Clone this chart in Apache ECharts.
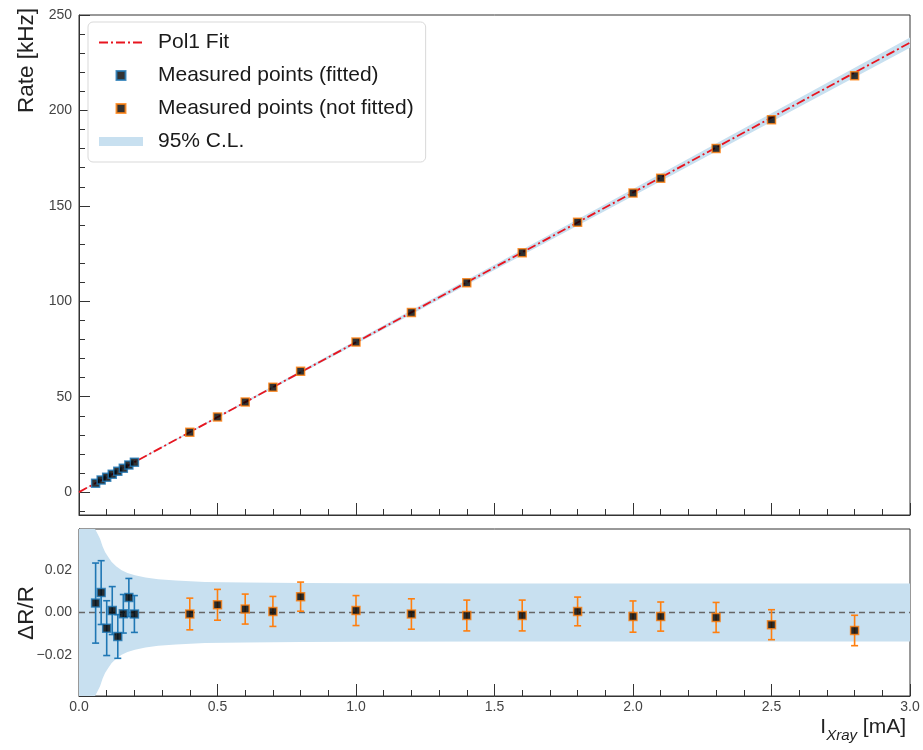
<!DOCTYPE html>
<html><head><meta charset="utf-8">
<script src="https://cdn.jsdelivr.net/npm/echarts@6/dist/echarts.min.js"></script>
<style>html,body{margin:0;padding:0;background:#fff}#chart{width:923px;height:750px}</style>
</head><body><div id="chart"></div>
<script>
// ---- data ----
const xFitted   = [0.06, 0.08, 0.10, 0.12, 0.14, 0.16, 0.18, 0.20];
const rateFitted = [4.7, 6.3, 7.8, 9.4, 10.9, 12.5, 14.2, 15.7];
const resFitted = [0.0044, 0.0093, -0.0073, 0.0009, -0.0112, -0.0006, 0.0070, -0.0007];
const errFitted = [0.0187, 0.0149, 0.0128, 0.0112, 0.0102, 0.0090, 0.0089, 0.0086];

const xNotFitted = [0.4, 0.5, 0.6, 0.7, 0.8, 1.0, 1.2, 1.4, 1.6, 1.8, 2.0, 2.1, 2.3, 2.5, 2.8];
const rateNotFitted = [31.4, 39.4, 47.2, 55.0, 63.3, 78.6, 94.1, 109.7, 125.4, 141.4, 156.7, 164.5, 180.1, 195.1, 218.2];
const resNotFitted = [-0.0007, 0.0036, 0.0016, 0.0005, 0.0074, 0.0009, -0.0007, -0.0014, -0.0014, 0.0005, -0.0019, -0.0019, -0.0023, -0.0057, -0.0084];
const errNotFitted = [0.0074, 0.0072, 0.0070, 0.0070, 0.0068, 0.0070, 0.0071, 0.0072, 0.0072, 0.0067, 0.0073, 0.0068, 0.0070, 0.0070, 0.0071];

const fitLineX = [0.0, 3.0];
const fitLineY = [0.0, 235.5];

const fitBandX    = [0.0, 0.5, 1.0, 1.5, 2.0, 2.5, 3.0];
const fitBandLow  = [-0.2, 38.8, 77.6, 116.4, 155.2, 194.0, 232.8];
const fitBandHigh = [0.2, 39.7, 79.4, 119.1, 158.8, 198.5, 238.2];

const resBandX    = [0.000, 0.030, 0.045, 0.058, 0.066, 0.076, 0.085, 0.094, 0.105, 0.118, 0.135, 0.154, 0.175, 0.202, 0.240, 0.286, 0.350, 0.455, 0.600, 0.800, 1.000, 1.500, 2.000, 2.500, 3.000];
const resBandLow  = [-0.300, -0.070, -0.048, -0.039, -0.037, -0.0344, -0.031, -0.0282, -0.026, -0.0236, -0.0215, -0.0197, -0.0185, -0.0174, -0.0163, -0.0155, -0.0149, -0.0143, -0.0140, -0.0138, -0.0137, -0.0136, -0.0136, -0.0136, -0.0136];
const resBandHigh = [0.300, 0.070, 0.048, 0.039, 0.037, 0.0344, 0.031, 0.0282, 0.026, 0.0236, 0.0215, 0.0197, 0.0185, 0.0174, 0.0163, 0.0155, 0.0149, 0.0143, 0.0140, 0.0138, 0.0137, 0.0136, 0.0136, 0.0136, 0.0136];

const xTickLabels = ['0.0', '0.5', '1.0', '1.5', '2.0', '2.5', '3.0'];
const rateTicks = [0, 50, 100, 150, 200, 250];
const rateMinorTicks = [-10, 10, 20, 30, 40, 60, 70, 80, 90, 110, 120, 130, 140, 160, 170, 180, 190, 210, 220, 230, 240];
const resTicks = [-0.02, 0.00, 0.02];
const resTickLabels = ['\u22120.02', '0.00', '0.02'];
const resMinorTicks = [-0.035, -0.03, -0.025, -0.015, -0.01, -0.005, 0.005, 0.01, 0.015, 0.025, 0.03, 0.035];

// ---- styling ----
const FONT = 'Liberation Sans, Arial, sans-serif';
const BAND = '#c8e0f0';
const BLUE = '#1f77b4';
const ORANGE = '#ff7f0e';
const RED = '#e8151f';
const AXIS = '#333';
const SQ = 'path://M0,0L10,0L10,10L0,10Z';

const zip = (a, b) => a.map((v, i) => [v, b[i]]);

function errRenderer(color) {
  return function (params, api) {
    const x = api.value(0), y = api.value(1), e = api.value(2);
    const t = api.coord([x, y + e]);
    const b = api.coord([x, y - e]);
    const c = 3.5;
    const st = { stroke: color, lineWidth: 1.6 };
    return { type: 'group', children: [
      { type: 'line', shape: { x1: t[0], y1: t[1], x2: b[0], y2: b[1] }, style: st },
      { type: 'line', shape: { x1: t[0] - c, y1: t[1], x2: t[0] + c, y2: t[1] }, style: st },
      { type: 'line', shape: { x1: b[0] - c, y1: b[1], x2: b[0] + c, y2: b[1] }, style: st }
    ]};
  };
}

function bandRenderer(xs, lo, hi) {
  return function (params, api) {
    if (params.dataIndex !== 0) return null;
    const pts = [];
    for (let i = 0; i < xs.length; i++) pts.push(api.coord([xs[i], hi[i]]));
    for (let i = xs.length - 1; i >= 0; i--) pts.push(api.coord([xs[i], lo[i]]));
    const cs = params.coordSys;
    return { type: 'polygon', shape: { points: pts }, style: { fill: BAND },
      clipPath: { type: 'rect', shape: { x: cs.x, y: cs.y, width: cs.width, height: cs.height } } };
  };
}

const xAxisCommon = {
  type: 'value', min: 0, max: 3, interval: 0.5,
  axisLine: { show: true, onZero: false, lineStyle: { color: AXIS, width: 1 } },
  axisTick: { show: true, inside: true, length: 12, lineStyle: { color: AXIS } },
  minorTick: { show: true, splitNumber: 5, length: 6, lineStyle: { color: AXIS } },
  splitLine: { show: false }, minorSplitLine: { show: false }
};

const chart = echarts.init(document.getElementById('chart'), null, { renderer: 'canvas' });
chart.setOption({
  animation: false,
  backgroundColor: '#fff',
  grid: [
    { left: 79, right: 13, top: 15, height: 500, show: true, borderColor: AXIS, borderWidth: 1, backgroundColor: 'transparent' },
    { left: 79, right: 13, top: 529, height: 167, show: true, borderColor: AXIS, borderWidth: 1, backgroundColor: 'transparent' }
  ],
  xAxis: [
    Object.assign({}, xAxisCommon, { gridIndex: 0, axisLabel: { show: false } }),
    Object.assign({}, xAxisCommon, { gridIndex: 1, axisLabel: { show: true, margin: 4, fontSize: 14, fontFamily: FONT, color: '#444',
      formatter: v => xTickLabels[Math.round(v / 0.5)] } })
  ],
  yAxis: [
    { gridIndex: 0, type: 'value', min: -12, max: 250,
      axisLine: { show: true, onZero: false, lineStyle: { color: AXIS } },
      axisTick: { show: true, inside: true, length: 11, customValues: rateTicks, lineStyle: { color: AXIS } },
      axisLabel: { show: true, customValues: rateTicks, margin: 7, fontSize: 14, fontFamily: FONT, color: '#444', formatter: v => String(v) },
      splitLine: { show: false } },
    { gridIndex: 0, type: 'value', min: -12, max: 250, position: 'left',
      axisLine: { show: false, onZero: false },
      axisTick: { show: true, inside: true, length: 6, customValues: rateMinorTicks, lineStyle: { color: AXIS } },
      axisLabel: { show: false }, splitLine: { show: false } },
    { gridIndex: 1, type: 'value', min: -0.039, max: 0.039,
      axisLine: { show: true, onZero: false, lineStyle: { color: AXIS } },
      axisTick: { show: true, inside: true, length: 11, customValues: resTicks, lineStyle: { color: AXIS } },
      axisLabel: { show: true, customValues: resTicks, margin: 7, fontSize: 14, fontFamily: FONT, color: '#444',
        formatter: v => resTickLabels[resTicks.findIndex(t => Math.abs(t - v) < 1e-6)] },
      splitLine: { show: false } },
    { gridIndex: 1, type: 'value', min: -0.039, max: 0.039, position: 'left',
      axisLine: { show: false, onZero: false },
      axisTick: { show: true, inside: true, length: 6, customValues: resMinorTicks, lineStyle: { color: AXIS } },
      axisLabel: { show: false }, splitLine: { show: false } }
  ],
  legend: {
    orient: 'vertical', left: 88, top: 22,
    padding: [10, 12, 10, 10], itemGap: 12, itemWidth: 44, itemHeight: 9,
    backgroundColor: '#fff', borderColor: '#d9d9d9', borderWidth: 1, borderRadius: 5,
    textStyle: { fontSize: 21, lineHeight: 20, fontFamily: FONT, color: '#1a1a1a', padding: [0, 0, 0, 10] },
    selectedMode: false,
    data: [
      { name: 'Pol1 Fit', itemStyle: { opacity: 0 } },
      { name: 'Measured points (fitted)', icon: SQ },
      { name: 'Measured points (not fitted)', icon: SQ },
      { name: '95% C.L.', icon: 'rect', itemStyle: { color: BAND, borderWidth: 0, opacity: 1 } }
    ]
  },
  graphic: [
    { type: 'text', x: 38, y: 8, rotation: Math.PI / 2,
      style: { text: 'Rate [kHz]', fontSize: 22.5, fontFamily: FONT, fill: '#222', align: 'right', verticalAlign: 'bottom' } },
    { type: 'text', x: 38, y: 613, rotation: Math.PI / 2,
      style: { text: '\u0394R/R', fontSize: 22.5, fontFamily: FONT, fill: '#222', align: 'center', verticalAlign: 'bottom' } },
    { type: 'text', x: 906, y: 717,
      style: { text: '{a|I}{b|Xray}{a| [mA]}', fill: '#222', align: 'right', verticalAlign: 'top',
        rich: {
          a: { fontSize: 21, fontFamily: FONT, lineHeight: 25, verticalAlign: 'top' },
          b: { fontSize: 15, fontFamily: FONT, fontStyle: 'italic', lineHeight: 38 }
        } } }
  ],
  series: [
    // top panel
    { name: '95% C.L.', type: 'custom', coordinateSystem: 'cartesian2d', xAxisIndex: 0, yAxisIndex: 0,
      data: fitBandX.map((x, i) => [x, fitBandLow[i], fitBandHigh[i]]), encode: { x: 0, y: [1, 2] },
      itemStyle: { color: BAND }, renderItem: bandRenderer(fitBandX, fitBandLow, fitBandHigh), silent: true, z: 1 },
    { name: 'Pol1 Fit', type: 'line', xAxisIndex: 0, yAxisIndex: 0, data: zip(fitLineX, fitLineY),
      symbol: 'none', lineStyle: { color: RED, width: 1.8, type: [9, 3, 2, 3] }, itemStyle: { color: RED }, z: 2 },
    { name: 'Measured points (fitted)', type: 'scatter', xAxisIndex: 0, yAxisIndex: 0, data: zip(xFitted, rateFitted),
      symbol: 'rect', symbolSize: 8, itemStyle: { color: '#000', borderColor: BLUE, borderWidth: 1.5 }, z: 4 },
    { name: 'Measured points (not fitted)', type: 'scatter', xAxisIndex: 0, yAxisIndex: 0, data: zip(xNotFitted, rateNotFitted),
      symbol: 'rect', symbolSize: 8, itemStyle: { color: '#000', borderColor: ORANGE, borderWidth: 1.5 }, z: 4 },

    // bottom panel
    { name: '95% C.L.', type: 'custom', coordinateSystem: 'cartesian2d', xAxisIndex: 1, yAxisIndex: 2,
      data: resBandX.map((x, i) => [x, resBandLow[i], resBandHigh[i]]), encode: { x: 0, y: [1, 2] },
      itemStyle: { color: BAND }, renderItem: bandRenderer(resBandX, resBandLow, resBandHigh), silent: true, z: 1 },
    { name: 'zero', type: 'line', xAxisIndex: 1, yAxisIndex: 2, data: [[0, 0], [3, 0]],
      symbol: 'none', lineStyle: { color: '#666', width: 1.5, type: [6, 4] }, silent: true, z: 2 },
    { name: 'errFitted', type: 'custom', coordinateSystem: 'cartesian2d', xAxisIndex: 1, yAxisIndex: 2,
      data: xFitted.map((x, i) => [x, resFitted[i], errFitted[i]]), encode: { x: 0, y: 1 },
      renderItem: errRenderer(BLUE), silent: true, z: 3 },
    { name: 'errNotFitted', type: 'custom', coordinateSystem: 'cartesian2d', xAxisIndex: 1, yAxisIndex: 2,
      data: xNotFitted.map((x, i) => [x, resNotFitted[i], errNotFitted[i]]), encode: { x: 0, y: 1 },
      renderItem: errRenderer(ORANGE), silent: true, z: 3 },
    { name: 'Measured points (fitted)', type: 'scatter', xAxisIndex: 1, yAxisIndex: 2, data: zip(xFitted, resFitted),
      symbol: 'rect', symbolSize: 8, itemStyle: { color: '#000', borderColor: BLUE, borderWidth: 1.5 }, z: 4 },
    { name: 'Measured points (not fitted)', type: 'scatter', xAxisIndex: 1, yAxisIndex: 2, data: zip(xNotFitted, resNotFitted),
      symbol: 'rect', symbolSize: 8, itemStyle: { color: '#000', borderColor: ORANGE, borderWidth: 1.5 }, z: 4 }
  ]
});
</script>
</body></html>
